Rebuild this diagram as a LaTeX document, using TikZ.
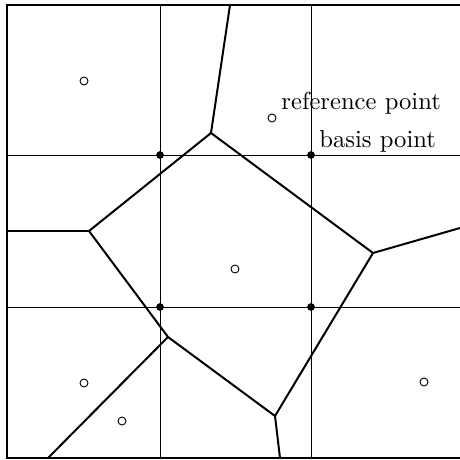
\documentclass[tikz,border=0pt]{standalone}
\usepackage{tikz}
\usetikzlibrary{positioning}

\begin{document}
\begin{tikzpicture}[
    x=0.015cm, y=-0.015cm,
    font=\fontsize{10.5}{12}\selectfont,
    frame/.style={line width=0.95pt},
    grid/.style={line width=0.3pt},
    edge/.style={line width=0.85pt, line join=miter},
    refpt/.style={circle, draw, line width=0.4pt, fill=white, inner sep=0pt, minimum size=3.4pt},
    basispt/.style={circle, fill=black, inner sep=0pt, minimum size=3.3pt},
]
\useasboundingbox (0,0) rectangle (460,460);

% frame (open on the right)
\draw[frame] (460,5) -- (7,5) -- (7,458) -- (460,458);

% grid of basis lines
\foreach \gx in {160,311}
  \draw[grid] (\gx,5) -- (\gx,458);
\foreach \gy in {155,307}
  \draw[grid] (7,\gy) -- (460,\gy);

% Voronoi vertices
\coordinate (vtop) at (211,133);
\coordinate (vleft) at (89,231);
\coordinate (vright) at (373,253);
\coordinate (vlow) at (168,337);
\coordinate (vbot) at (275,416);

% ends on the frame
\coordinate (etop) at (230,5);
\coordinate (eleft) at (7,231);
\coordinate (eright) at (460,228);
\coordinate (elow) at (48,458);
\coordinate (ebot) at (280,458);

\draw[edge] (vtop) -- (vleft) -- (vlow) -- (vbot) -- (vright) -- cycle;
\draw[edge] (vtop) -- (etop);
\draw[edge] (vleft) -- (eleft);
\draw[edge] (vright) -- (eright);
\draw[edge] (vlow) -- (elow);
\draw[edge] (vbot) -- (ebot);

% basis points
\node[basispt] (b1) at (160,155) {};
\node[basispt] (b2) at (311,155) {};
\node[basispt] (b3) at (160,307) {};
\node[basispt] (b4) at (311,307) {};

% reference points
\node[refpt] (r1) at (84,81) {};
\node[refpt] (r2) at (272,118) {};
\node[refpt] (r3) at (235,269) {};
\node[refpt] (r4) at (84,383) {};
\node[refpt] (r5) at (122,421) {};
\node[refpt] (r6) at (424,382) {};

% labels
\node[anchor=base west, inner sep=0pt] (reflabel) at (281,110) {reference point};
\node[anchor=base west, inner sep=0pt] (basislabel) at (319,148) {basis point};
\end{tikzpicture}
\end{document}
